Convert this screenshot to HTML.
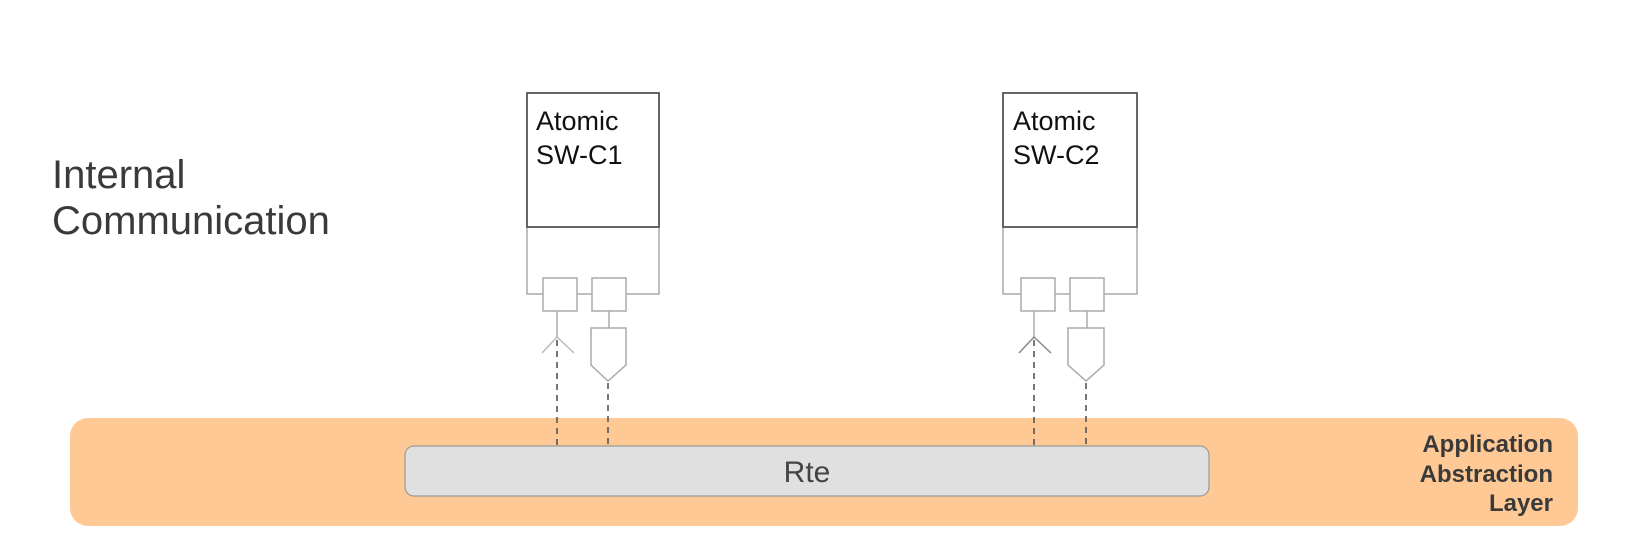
<!DOCTYPE html>
<html><head><style>html,body{margin:0;padding:0;background:#fff;}svg{display:block}</style></head>
<body>
<svg width="1629" height="547" xmlns="http://www.w3.org/2000/svg" font-family="Liberation Sans, sans-serif">
<rect width="1629" height="547" fill="#fff"/>
<text x="52" y="188" font-size="40" fill="#3a3a3a">Internal</text>
<text x="52" y="234" font-size="40" fill="#3a3a3a">Communication</text>

<rect x="70" y="418" width="1508" height="108" rx="18" fill="#fec995"/>
<g font-weight="bold" font-size="24" fill="#3a3a3a" text-anchor="end">
<text x="1553" y="452">Application</text>
<text x="1553" y="482">Abstraction</text>
<text x="1553" y="511">Layer</text>
</g>
<rect x="405" y="446" width="804" height="50" rx="9" fill="#e0e0e0" stroke="#999" stroke-width="1.2"/>
<text x="807" y="482" font-size="30" fill="#444" text-anchor="middle">Rte</text>

<g fill="none" stroke="#aaa" stroke-width="1.5">
<polyline points="527,227 527,294 543,294"/>
<polyline points="577,294 592,294"/>
<polyline points="626,294 659,294 659,227"/>
<rect x="543" y="278" width="34" height="33" fill="#fff"/>
<rect x="592" y="278" width="34" height="33" fill="#fff"/>
<line x1="557" y1="311" x2="557" y2="337"/>
<polyline points="542,353 557,337 574,353" stroke="#bbb"/>
<line x1="609" y1="311" x2="609" y2="328"/>
<polygon points="591,328 626,328 626,365 608,381 591,365"/>
<polyline points="1003,227 1003,294 1021,294"/>
<polyline points="1055,294 1070,294"/>
<polyline points="1104,294 1137,294 1137,227"/>
<rect x="1021" y="278" width="34" height="33" fill="#fff"/>
<rect x="1070" y="278" width="34" height="33" fill="#fff"/>
<line x1="1034" y1="311" x2="1034" y2="337"/>
<polyline points="1019,353 1034,337 1051,353" stroke="#888"/>
<line x1="1087" y1="311" x2="1087" y2="328"/>
<polygon points="1068,328 1104,328 1104,365 1086,381 1068,365"/>
</g>
<g stroke="#555" stroke-width="1.6" stroke-dasharray="6,5">
<line x1="557" y1="340" x2="557" y2="446"/>
<line x1="608" y1="383" x2="608" y2="446"/>
<line x1="1034" y1="340" x2="1034" y2="446"/>
<line x1="1086" y1="383" x2="1086" y2="446"/>
</g>
<rect x="527" y="93" width="132" height="134" fill="#fff" stroke="#555" stroke-width="1.8"/>
<rect x="1003" y="93" width="134" height="134" fill="#fff" stroke="#555" stroke-width="1.8"/>
<g font-size="27" fill="#111">
<text x="536" y="130">Atomic</text>
<text x="536" y="164">SW-C1</text>
<text x="1013" y="130">Atomic</text>
<text x="1013" y="164">SW-C2</text>
</g>
</svg>
</body></html>
